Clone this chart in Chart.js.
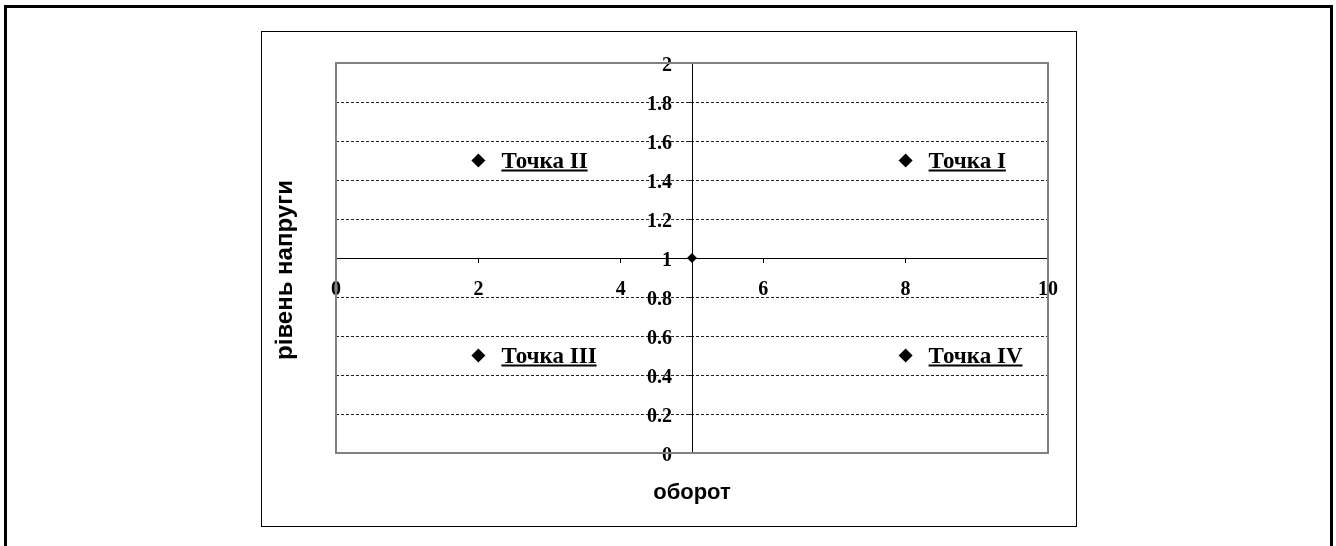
<!DOCTYPE html>
<html lang="uk">
<head>
    <meta charset="UTF-8">
    <title>Точки</title>
    <script src="https://cdn.jsdelivr.net/npm/chart.js"></script>
    <style>
        html, body { margin: 0; padding: 0; background: #fff; }
    </style>
</head>
<body>
    <canvas id="myChart" width="1336" height="546"></canvas>

    <script>
        // дані графіка
        const pointNames = ['Точка I', 'Точка II', 'Точка III', 'Точка IV'];
        const pointX = [8, 2, 2, 8];
        const pointY = [1.5, 1.5, 0.5, 0.5];
        // точка перетину осей
        const centerX = [5];
        const centerY = [1];
        // підписи осей
        const xTicks = [0, 2, 4, 6, 8, 10];
        const yTicks = [0, 0.2, 0.4, 0.6, 0.8, 1, 1.2, 1.4, 1.6, 1.8, 2];
        const xTitle = 'оборот';
        const yTitle = 'рівень напруги';

        const serifBold = { family: "'Liberation Serif', 'Times New Roman', serif", size: 20, weight: 'bold' };

        // рамки навколо картинки, області графіка та області побудови
        const framePlugin = {
            id: 'frames',
            beforeDraw(chart) {
                const ctx = chart.ctx;
                ctx.save();
                ctx.fillStyle = '#fff';
                ctx.fillRect(0, 0, chart.width, chart.height);
                // зовнішня рамка (без нижнього краю)
                ctx.strokeStyle = '#000';
                ctx.lineWidth = 3;
                ctx.beginPath();
                ctx.moveTo(5.5, chart.height);
                ctx.lineTo(5.5, 6.5);
                ctx.lineTo(1331.5, 6.5);
                ctx.lineTo(1331.5, chart.height);
                ctx.stroke();
                // рамка області графіка
                ctx.lineWidth = 1;
                ctx.strokeRect(261.5, 31.5, 815, 495);
                ctx.restore();
            },
            afterDraw(chart) {
                const ctx = chart.ctx;
                const a = chart.chartArea;
                ctx.save();
                ctx.strokeStyle = '#808080';
                ctx.lineWidth = 2;
                ctx.strokeRect(a.left, a.top, a.right - a.left, a.bottom - a.top);
                // назви осей
                ctx.fillStyle = '#000';
                ctx.font = "bold 22px 'Liberation Sans', Arial, sans-serif";
                ctx.textAlign = 'center';
                ctx.textBaseline = 'middle';
                ctx.fillText(xTitle, (a.left + a.right) / 2, 493);
                ctx.translate(285, 270);
                ctx.rotate(-Math.PI / 2);
                ctx.font = "bold 24px 'Liberation Sans', Arial, sans-serif";
                ctx.fillText(yTitle, 0, 0);
                ctx.restore();
            }
        };

        // підписи точок, підкреслені
        const labelPlugin = {
            id: 'pointLabels',
            afterDatasetsDraw(chart) {
                const ctx = chart.ctx;
                const meta = chart.getDatasetMeta(0);
                ctx.save();
                ctx.fillStyle = '#000';
                ctx.strokeStyle = '#000';
                ctx.font = "bold 23px 'Liberation Serif', 'Times New Roman', serif";
                ctx.textAlign = 'left';
                ctx.textBaseline = 'alphabetic';
                meta.data.forEach((pt, i) => {
                    const x = pt.x + 23;
                    const y = pt.y + 7;
                    ctx.fillText(pointNames[i], x, y);
                    const w = ctx.measureText(pointNames[i]).width;
                    ctx.lineWidth = 1.8;
                    ctx.beginPath();
                    ctx.moveTo(x, y + 3);
                    ctx.lineTo(x + w, y + 3);
                    ctx.stroke();
                });
                ctx.restore();
            }
        };

        const data = {
            datasets: [
                {
                    label: 'точки',
                    data: pointX.map((x, i) => ({ x: x, y: pointY[i] })),
                    pointStyle: 'rectRot',
                    pointRadius: 7,
                    backgroundColor: '#000',
                    borderColor: '#000',
                    borderWidth: 0
                },
                {
                    label: 'центр',
                    data: centerX.map((x, i) => ({ x: x, y: centerY[i] })),
                    pointStyle: 'rectRot',
                    pointRadius: 5,
                    backgroundColor: '#000',
                    borderColor: '#000',
                    borderWidth: 0
                }
            ]
        };

        const config = {
            type: 'scatter',
            data: data,
            options: {
                responsive: false,
                animation: false,
                layout: { padding: { left: 336, right: 288, top: 63, bottom: 93 } },
                plugins: {
                    legend: { display: false },
                    tooltip: { enabled: false }
                },
                scales: {
                    x: {
                        type: 'linear',
                        min: 0,
                        max: 10,
                        position: { y: 1 },
                        afterBuildTicks: s => { s.ticks = xTicks.map(v => ({ value: v })); },
                        grid: { drawOnChartArea: false, drawTicks: true, tickLength: 4, color: '#000' },
                        border: { display: true, color: '#000', width: 1 },
                        ticks: { color: '#000', font: serifBold, padding: 16, maxRotation: 0 }
                    },
                    y: {
                        type: 'linear',
                        min: 0,
                        max: 2,
                        position: { x: 5 },
                        afterBuildTicks: s => { s.ticks = yTicks.map(v => ({ value: v })); },
                        grid: { color: '#222', lineWidth: 1, tickLength: 5 },
                        border: { display: true, color: '#000', width: 1, dash: [3, 2] },
                        // пробіли зсувають підписи лівіше від осі
                        ticks: { color: '#000', font: serifBold, labelOffset: 3, callback: v => String(v) + '    ' }
                    }
                }
            },
            plugins: [framePlugin, labelPlugin]
        };

        const ctx = document.getElementById('myChart').getContext('2d');
        const myChart = new Chart(ctx, config);
    </script>
</body>
</html>
